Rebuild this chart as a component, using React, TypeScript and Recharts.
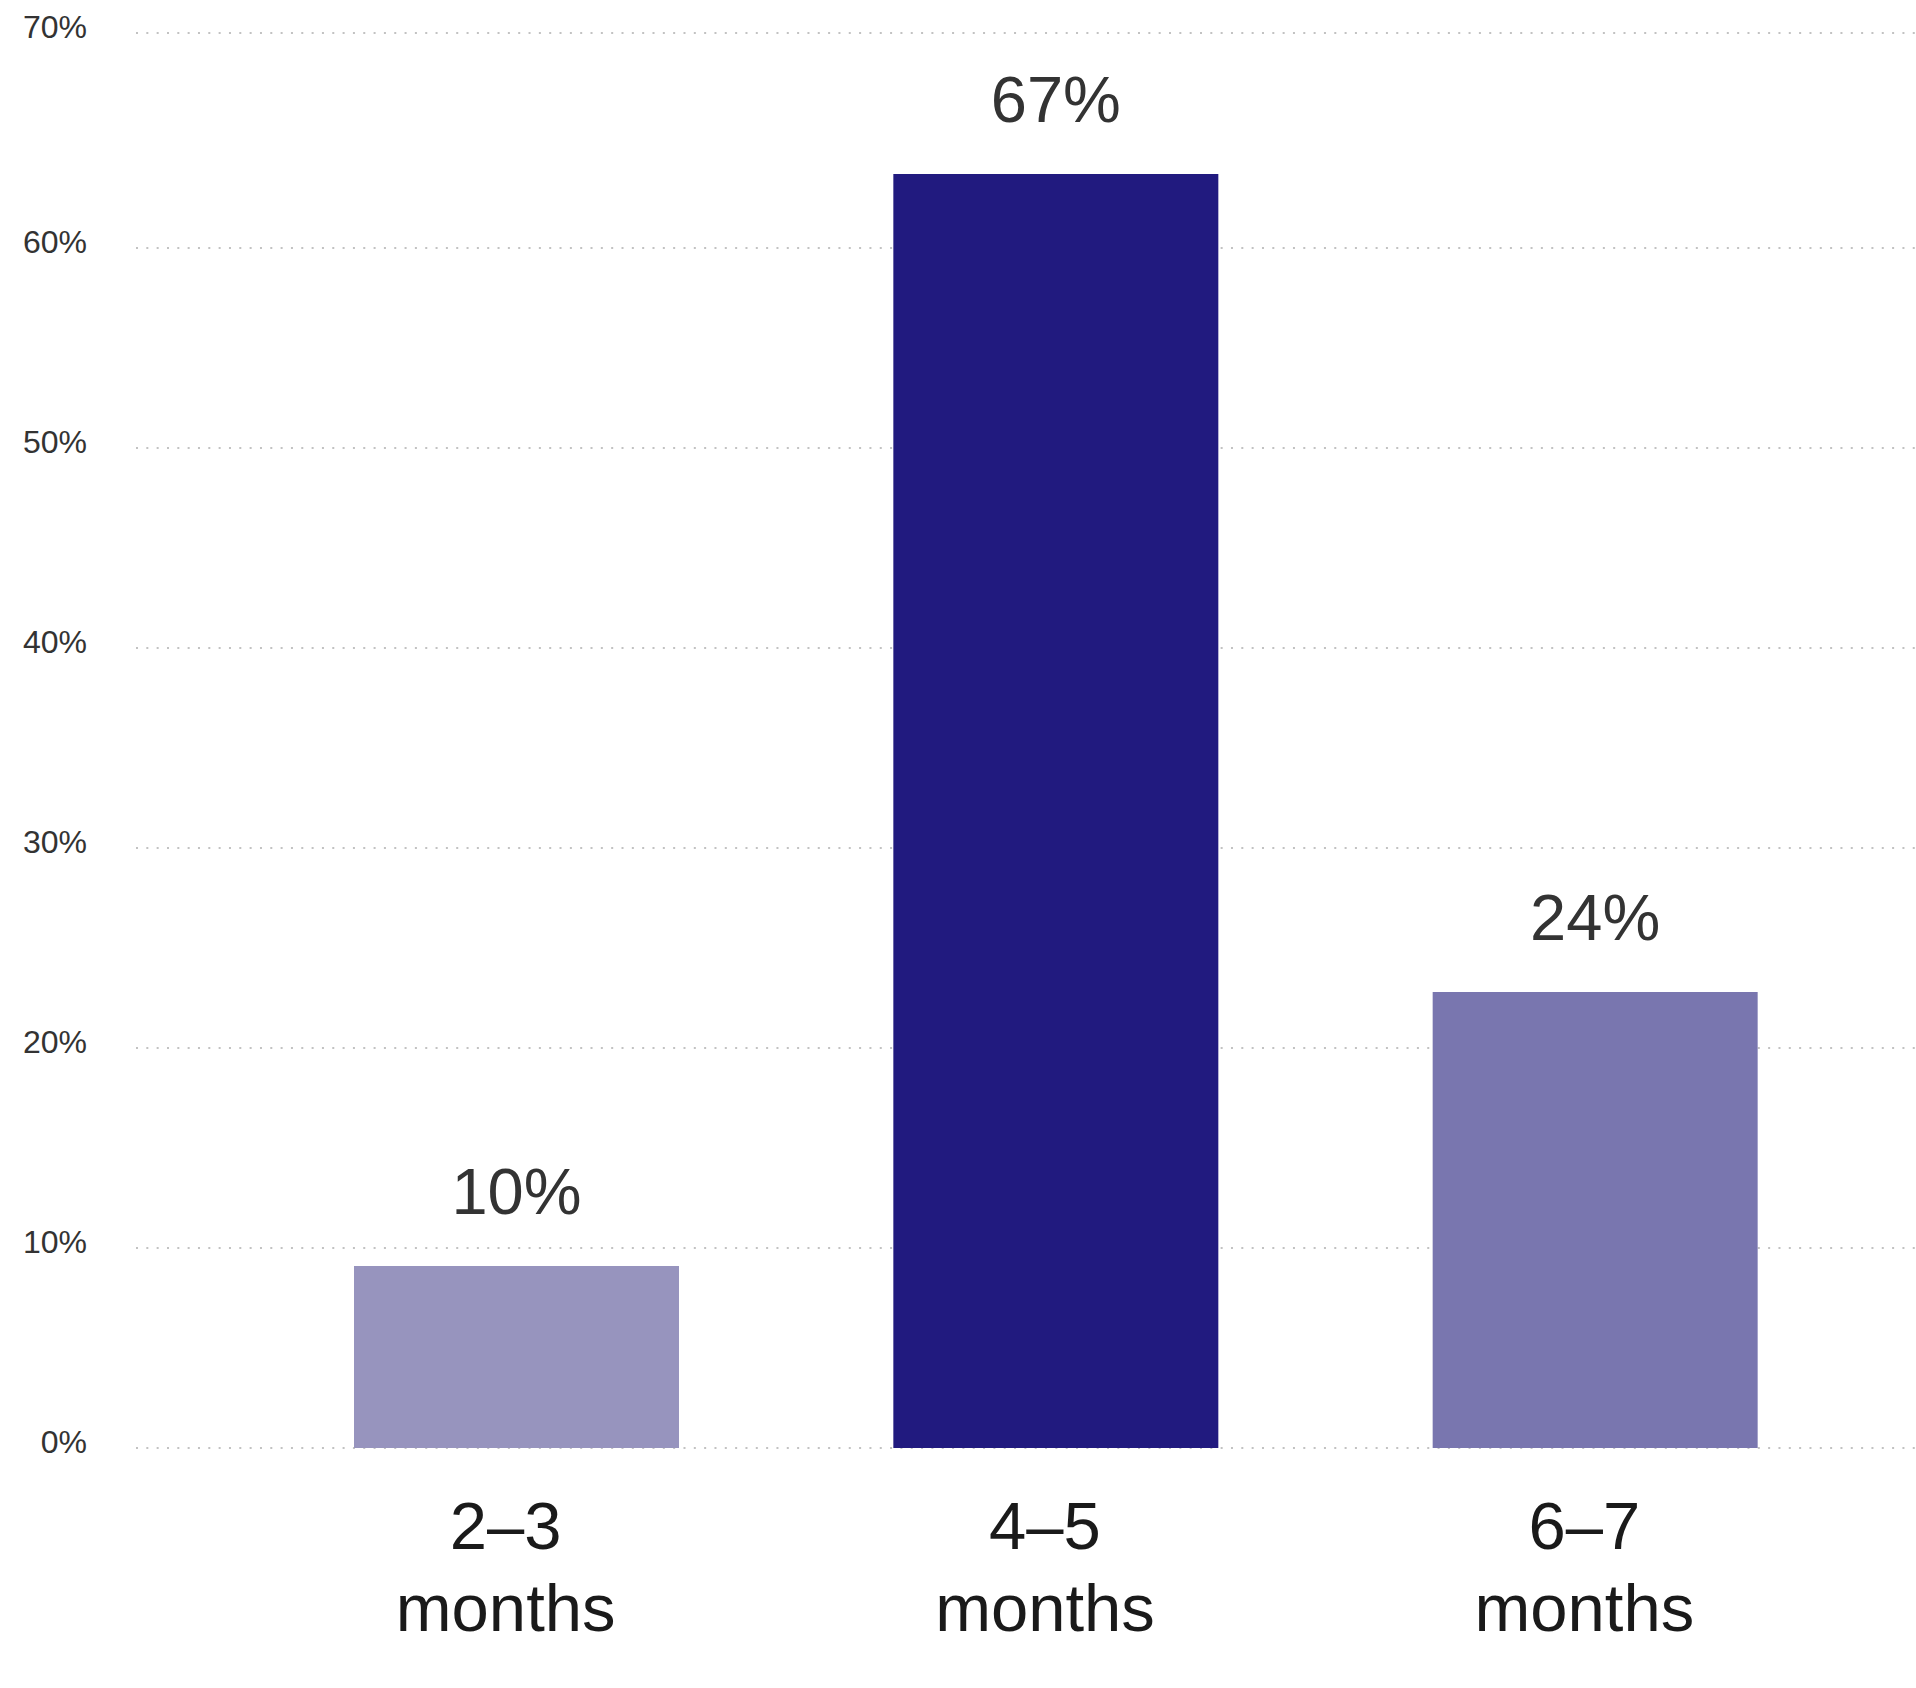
import React from "react";
import { BarChart, Bar, XAxis, YAxis, CartesianGrid, Cell, LabelList } from "recharts";

// categories and values
const categories = ["2–3 months", "4–5 months", "6–7 months"];
const barValues = [9.1, 63.7, 22.8]; // drawn bar heights in %
const valueLabels = ["10%", "67%", "24%"];
const barColors = ["#9794be", "#211a7f", "#7976af"];

// the top grid line sits a little above 70
const yTicks = [0, 10, 20, 30, 40, 50, 60, 70.75];
const yTickLabels = ["0%", "10%", "20%", "30%", "40%", "50%", "60%", "70%"];

const data = categories.map((name, i) => ({ name, value: barValues[i] }));

const FONT = "'Liberation Sans', Arial, Helvetica, sans-serif";

const YTick = (props: any) => {
  const { y, index } = props;
  return (
    <text x={87} y={y + 5} textAnchor="end" fontSize={32} fill="#333" fontFamily={FONT}>
      {yTickLabels[index]}
    </text>
  );
};

const XTick = (props: any) => {
  const { x, y, payload } = props;
  const parts = String(payload.value).split(" ");
  return (
    <text textAnchor="middle" fontSize={67} fill="#1a1a1a" fontFamily={FONT}>
      <tspan x={x - 11} y={y + 93}>{parts[0]}</tspan>
      <tspan x={x - 11} y={y + 175}>{parts[1]}</tspan>
    </text>
  );
};

const ValueLabel = (props: any) => {
  const { x, y, width, index } = props;
  return (
    <text x={x + width / 2} y={y - 52} textAnchor="middle" fontSize={65} fill="#333" fontFamily={FONT}>
      {valueLabels[index]}
    </text>
  );
};

const App: React.FC = () => {
  return (
    <div style={{ position: "absolute", left: 0, top: 0, width: 1916, height: 1688, background: "#fff" }}>
      <BarChart
        width={1916}
        height={1688}
        data={data}
        margin={{ top: 33, right: 0, left: 0, bottom: 0 }}
      >
        <CartesianGrid vertical={false} stroke="#c2c2c2" strokeWidth={2} strokeDasharray="2 8.33" />
        <XAxis
          dataKey="name"
          axisLine={false}
          tickLine={false}
          height={240}
          padding={{ left: 111, right: 51 }}
          tick={<XTick />}
          interval={0}
        />
        <YAxis
          width={136}
          domain={[0, 70.75]}
          ticks={yTicks}
          axisLine={false}
          tickLine={false}
          tick={<YTick />}
          interval={0}
        />
        <Bar dataKey="value" barSize={325} isAnimationActive={false}>
          {data.map((_, i) => (
            <Cell key={i} fill={barColors[i]} />
          ))}
          <LabelList dataKey="value" content={<ValueLabel />} />
        </Bar>
      </BarChart>
    </div>
  );
};

export default App;
